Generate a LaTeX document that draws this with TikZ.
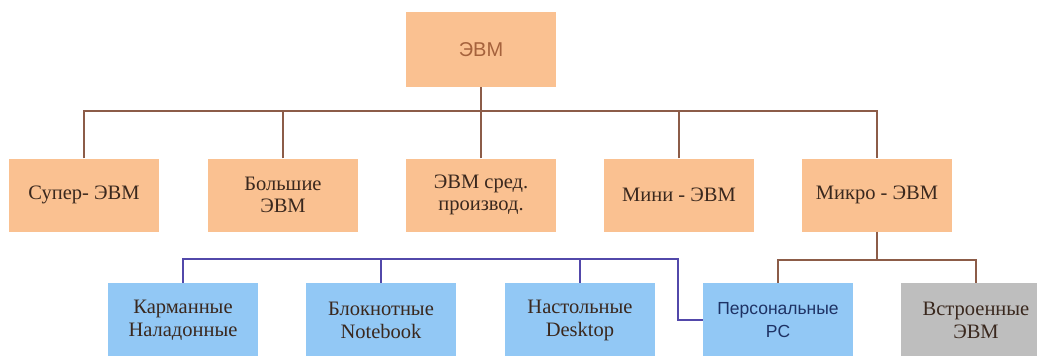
\documentclass[tikz,border=0pt]{standalone}
\usepackage{fontspec}
\setmainfont{Liberation Serif}
\newfontfamily\arialf{Liberation Sans}
\definecolor{orangefill}{RGB}{250,193,145}
\definecolor{bluefill}{RGB}{146,200,245}
\definecolor{grayfill}{RGB}{190,190,190}
\definecolor{brownline}{RGB}{140,92,72}
\definecolor{blueline}{RGB}{82,72,170}
\definecolor{darktext}{RGB}{58,40,30}
\definecolor{toptext}{RGB}{165,98,60}
\definecolor{pctext}{RGB}{30,50,100}
\tikzset{
  box/.style={rectangle, minimum width=150pt, minimum height=74pt, inner sep=0pt, align=center,
    font=\fontsize{20.5}{23}\selectfont, text=darktext},
  obox/.style={box, fill=orangefill},
  bbox/.style={box, fill=bluefill},
  gbox/.style={box, fill=grayfill},
  bline/.style={draw=brownline, line width=1.8pt},
  uline/.style={draw=blueline, line width=1.8pt}
}
\begin{document}
\begin{tikzpicture}[x=1pt,y=-1pt]
\useasboundingbox[fill=white] (0,0) rectangle (1037,356);
% top
\node[obox, minimum height=75pt, text=toptext, font=\arialf\fontsize{20}{22}\selectfont] (top) at (481,49.5) {ЭВМ};
% row 2
\node[obox, minimum height=73pt, font=\fontsize{20.5}{22}\selectfont] (n1) at (84,195) {Супер- ЭВМ};
\node[obox, minimum height=73pt, font=\fontsize{20.5}{22}\selectfont] (n2) at (283,195) {Большие\\ЭВМ};
\node[obox, minimum height=73pt, font=\fontsize{20.5}{22}\selectfont] (n3) at (481,195) {ЭВМ сред.\\производ.};
\node[obox, minimum height=73pt, font=\fontsize{20.5}{22}\selectfont] (n4) at (679,195) {Мини - ЭВМ};
\node[obox, minimum height=73pt, font=\fontsize{20.5}{22}\selectfont] (n5) at (877,195) {Микро - ЭВМ};
% row 3
\node[bbox] (k1) at (183,320) {Карманные\\Наладонные};
\node[bbox] (k2) at (381,320) {Блокнотные\\Notebook};
\node[bbox] (k3) at (580,320) {Настольные\\Desktop};
\node[bbox, text=pctext, font=\arialf\fontsize{17.5}{23}\selectfont] (pc) at (778,320) {Персональные\\PC};
\node[gbox] (vs) at (976,320) {Встроенные\\ЭВМ};
% brown connectors
\coordinate (jT) at (481,111);
\draw[bline] (top.south) -- (jT);
\draw[bline] (n1.north) |- (jT) -| (n5.north);
\draw[bline] (n2.north) -- (n2.north |- jT);
\draw[bline] (n3.north) -- (n3.north |- jT);
\draw[bline] (n4.north) -- (n4.north |- jT);
\coordinate (jM) at (877,260);
\draw[bline] (n5.south) -- (jM);
\draw[bline] (pc.north) |- (jM) -| (vs.north);
% blue connectors
\coordinate (jB) at (678,259);
\draw[uline] (k1.north) |- (jB) |- (pc.west);
\draw[uline] (k2.north) -- (k2.north |- jB);
\draw[uline] (k3.north) -- (k3.north |- jB);
\end{tikzpicture}
\end{document}
